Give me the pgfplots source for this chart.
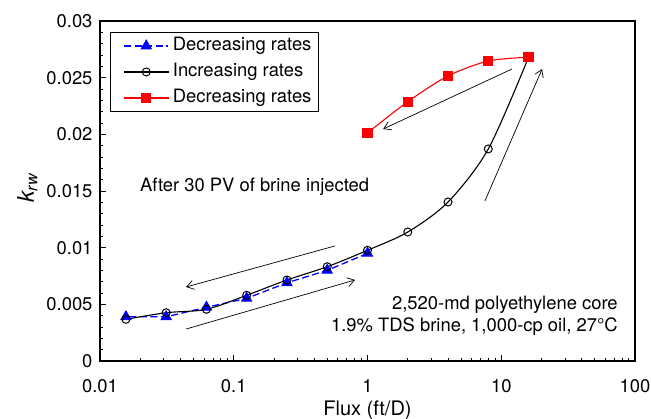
\documentclass[border=0pt]{standalone}
\usepackage{fontspec}
\setmainfont{TeX Gyre Heros}
\usepackage{pgfplots}
\pgfplotsset{compat=1.18}
\usetikzlibrary{arrows.meta}
\newcommand\fs{\fontsize{18.4bp}{22bp}\selectfont}
\begin{document}
\begin{tikzpicture}
\begin{semilogxaxis}[
  at={(0,0)}, anchor=south west,
  scale only axis, width=535bp, height=340bp,
  xmin=0.01, xmax=100, ymin=0, ymax=0.03,
  scaled y ticks=false,
  xtick={0.01,0.1,1,10,100}, xticklabels={0.01,0.1,1,10,100},
  ytick={0,0.005,0.01,0.015,0.02,0.025,0.03},
  yticklabels={0,0.005,0.01,0.015,0.02,0.025,0.03},
  minor y tick num=4,
  tick pos=left, tick align=inside,
  axis line style={line width=1.6bp},
  major tick length=6bp, minor tick length=3.5bp,
  every tick/.style={black, line width=0.8bp},
  tick label style={font=\fs},
  yticklabel style={xshift=-4bp},
  xticklabel style={yshift=-15bp},
  xlabel={Flux (ft/D)},
  xlabel style={at={(axis description cs:0.5,-0.159)}, anchor=base, font=\fontsize{20bp}{24bp}\selectfont},
  ylabel={\itshape k\textsubscript{rw}},
  ylabel style={at={(axis description cs:-0.136,0.509)}, anchor=center, font=\fontsize{23bp}{27bp}\selectfont},
  legend cell align=left,
  legend image code/.code={\path (0bp,0bp) (54bp,0bp); \draw[mark repeat=2,mark phase=2] plot coordinates {(8bp,0bp)(30bp,0bp)(52bp,0bp)};},
  legend style={at={(rel axis cs:0.0187,0.968)}, anchor=north west, font=\fs,
    draw=black, line width=1.2bp, inner xsep=5bp, inner ysep=3bp,
    nodes={text height=13bp, text depth=4bp, inner sep=2bp}, row sep=5bp},
]
\addplot[blue, dash pattern=on 7bp off 3.5bp, line width=1.3bp, mark=triangle*, mark size=5.5bp, mark options={solid, fill=blue}]
 coordinates {(1,0.0095)(0.5,0.0080)(0.25,0.0069)(0.125,0.00553)(0.0625,0.00474)(0.03125,0.0039)(0.015625,0.0039)};
\addlegendentry{Decreasing rates}
\addplot[black, line width=1.1bp, smooth, mark=o, mark size=4bp, mark options={line width=1bp}]
 coordinates {(0.015625,0.00368)(0.03125,0.00426)(0.0625,0.00456)(0.125,0.0058)(0.25,0.00715)(0.5,0.00832)(1,0.00977)(2,0.01138)(4,0.01403)(8,0.01871)(16,0.0268)};
\addlegendentry{Increasing rates}
\addplot[red, line width=1.1bp, smooth, mark=square*, mark size=4.5bp, mark options={fill=red}]
 coordinates {(16,0.0268)(8,0.02647)(4,0.02515)(2,0.02288)(1,0.02012)};
\addlegendentry{Decreasing rates}
\draw[-{Straight Barb[length=7bp,width=9bp]}, line width=0.7bp] (axis cs:0.571,0.01015) -- (axis cs:0.044,0.00653);
\draw[-{Straight Barb[length=7bp,width=9bp]}, line width=0.7bp] (axis cs:0.044,0.00282) -- (axis cs:0.807,0.00715);
\draw[-{Straight Barb[length=7bp,width=9bp]}, line width=0.7bp] (axis cs:7.55,0.01412) -- (axis cs:20.2,0.02576);
\draw[-{Straight Barb[length=7bp,width=9bp]}, line width=0.7bp] (axis cs:12.0,0.02576) -- (axis cs:1.31,0.02047);
\node[anchor=west, font=\fs, inner sep=0] at (axis cs:0.0199,0.01538) {After 30 PV of brine injected};
\node[anchor=east, font=\fs, inner sep=0] at (rel axis cs:0.968,0.165) {2,520-md polyethylene core};
\node[anchor=east, font=\fs, inner sep=0] at (rel axis cs:0.968,0.1) {1.9\% TDS brine, 1,000-cp oil, 27°C};
\end{semilogxaxis}
\pgfresetboundingbox
\useasboundingbox ([shift={(-100bp,-58bp)}]current axis.south west) rectangle ([shift={(16bp,21bp)}]current axis.north east);
\end{tikzpicture}
\end{document}
